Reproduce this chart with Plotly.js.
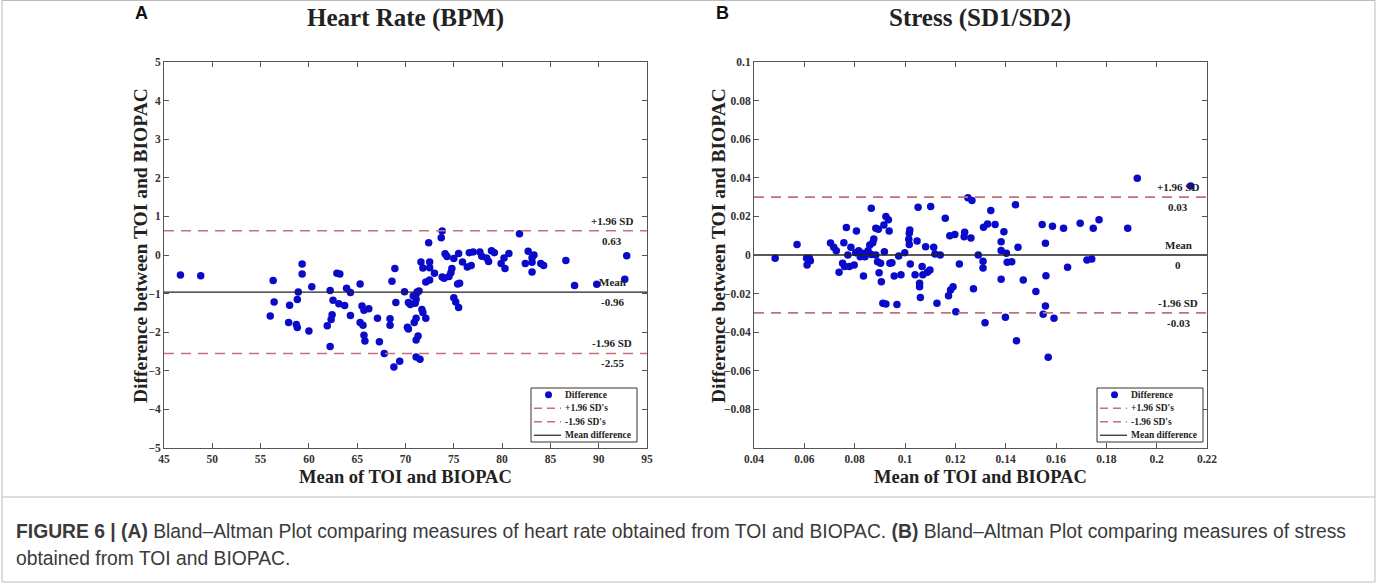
<!DOCTYPE html>
<html>
<head>
<meta charset="utf-8">
<script src="https://cdn.plot.ly/plotly-3.0.1.min.js"></script>
<style>html,body{margin:0;padding:0;background:#fff;}#chart{width:1377px;height:583px;}</style>
</head>
<body>
<div id="chart"></div>
<script>
// ---- Panel A: Heart Rate (BPM) ----
const hrMean = [46.7,48.8,56.0,56.3,56.4,57.9,58.0,58.7,58.8,58.8,58.9,59.3,59.3,60.0,60.3,61.9,62.2,62.2,62.3,62.4,62.5,62.9,63.2,63.1,63.7,63.9,64.3,64.3,65.3,65.3,65.5,65.7,65.6,65.7,65.8,66.2,67.1,67.3,67.8,68.4,68.4,68.6,68.8,68.9,69.0,69.4,69.9,70.2,70.3,70.3,70.5,70.8,70.9,71.0,71.1,71.1,71.1,71.1,71.1,71.2,71.3,71.4,71.5,71.6,71.7,71.8,71.8,72.1,72.1,72.4,72.5,72.5,72.5,73.0,73.7,73.8,73.8,74.0,74.1,74.3,74.5,74.7,74.8,75.0,75.0,75.2,75.4,75.5,75.5,75.6,75.9,76.4,76.6,76.8,77.0,77.7,77.9,78.4,78.6,78.9,79.2,79.9,80.2,80.3,80.7,81.8,82.4,82.7,83.1,83.1,83.1,83.3,84.0,84.3,86.6,87.5,89.8,92.7,92.9];
const hrDiff = [-0.52,-0.54,-1.58,-0.66,-1.22,-1.75,-1.30,-1.80,-1.15,-1.88,-0.96,-0.49,-0.23,-1.97,-0.82,-1.83,-0.92,-2.37,-1.67,-1.55,-1.17,-0.47,-0.49,-1.26,-1.31,-0.86,-0.97,-1.57,-0.75,-1.75,-1.32,-1.43,-1.82,-2.08,-2.23,-1.39,-1.64,-2.25,-2.55,-1.65,-1.82,-0.68,-2.90,-0.35,-1.23,-2.75,-0.95,-1.87,-1.92,-1.23,-1.28,-1.06,-1.75,-1.25,-1.15,-1.64,-2.20,-2.64,-1.02,-0.96,-2.10,-0.93,-2.70,-0.18,-1.41,-0.34,-1.49,-0.70,-1.64,0.32,-0.18,-0.33,-0.65,-0.47,0.45,0.62,-0.57,-0.60,0.03,-0.04,-0.56,-0.46,-0.35,-0.09,-1.11,-1.22,-0.75,0.04,-1.36,-0.73,-0.18,-0.31,0.06,-0.27,0.08,0.08,-0.03,-0.08,-0.17,0.11,0.06,-0.22,-0.08,-0.35,0.04,0.55,-0.22,0.10,-0.07,-0.19,-0.44,0.00,-0.22,-0.27,-0.14,-0.79,-0.76,-0.63,-0.02];
const hrRange = [45, 95];
const hrUpper = 0.63, hrMeanDiff = -0.96, hrLower = -2.55;
const hrTicks = [45,50,55,60,65,70,75,80,85,90,95];
const hrYTicks = [-5,-4,-3,-2,-1,0,1,2,3,4,5];

// ---- Panel B: Stress (SD1/SD2) ----
const stMean = [0.0484,0.0571,0.0609,0.0611,0.0620,0.0624,0.0704,0.0717,0.0727,0.0738,0.0752,0.0757,0.0760,0.0767,0.0773,0.0779,0.0785,0.0798,0.0804,0.0807,0.0816,0.0822,0.0829,0.0835,0.0841,0.0847,0.0853,0.0860,0.0866,0.0866,0.0872,0.0876,0.0884,0.0884,0.0891,0.0894,0.0897,0.0903,0.0906,0.0912,0.0916,0.0918,0.0924,0.0924,0.0934,0.0937,0.0940,0.0948,0.0957,0.0968,0.0975,0.0984,0.0999,0.1015,0.1017,0.1017,0.1019,0.1021,0.1040,0.1048,0.1052,0.1058,0.1058,0.1061,0.1068,0.1071,0.1082,0.1089,0.1099,0.1102,0.1114,0.1119,0.1127,0.1140,0.1160,0.1173,0.1178,0.1181,0.1191,0.1198,0.1202,0.1216,0.1235,0.1237,0.1250,0.1262,0.1266,0.1272,0.1291,0.1310,0.1310,0.1312,0.1318,0.1328,0.1341,0.1358,0.1382,0.1382,0.1382,0.1393,0.1399,0.1403,0.1406,0.1424,0.1439,0.1443,0.1449,0.1470,0.1520,0.1545,0.1549,0.1558,0.1558,0.1560,0.1569,0.1586,0.1592,0.1630,0.1646,0.1696,0.1723,0.1742,0.1748,0.1771,0.1885,0.1923,0.2135];
const stDiff = [-0.0017,0.0054,-0.0017,-0.0052,-0.0017,-0.0030,0.0062,0.0040,0.0022,-0.0090,-0.0043,0.0064,-0.0060,0.0142,0.0000,-0.0060,0.0040,-0.0052,0.0012,0.0125,0.0022,-0.0009,0.0009,-0.0109,-0.0009,0.0009,0.0022,0.0052,0.0242,0.0003,0.0064,0.0083,0.0138,0.0000,-0.0035,0.0133,-0.0092,-0.0043,-0.0138,-0.0250,0.0156,0.0017,0.0199,-0.0254,0.0182,0.0125,-0.0043,-0.0040,-0.0109,-0.0256,-0.0005,-0.0102,0.0012,0.0081,0.0113,0.0055,0.0130,-0.0047,-0.0102,0.0073,0.0248,-0.0147,-0.0164,-0.0220,-0.0060,-0.0102,0.0043,-0.0090,-0.0078,0.0251,0.0040,0.0005,-0.0250,0.0000,0.0190,-0.0211,0.0100,-0.0181,-0.0164,0.0106,-0.0294,-0.0047,0.0095,0.0118,0.0296,0.0088,0.0282,-0.0175,0.0000,-0.0033,-0.0068,0.0144,-0.0351,0.0161,0.0230,0.0158,0.0069,0.0023,-0.0125,0.0121,-0.0323,0.0009,-0.0038,-0.0035,0.0261,-0.0444,0.0040,-0.0130,-0.0189,0.0158,-0.0307,0.0061,-0.0264,-0.0107,-0.0530,0.0149,-0.0328,0.0139,-0.0064,0.0164,-0.0026,-0.0021,0.0139,0.0182,0.0139,0.0398,0.0357];
const stRange = [0.04, 0.22];
const stUpper = 0.03, stMeanDiff = 0, stLower = -0.03;
const stTicks = [0.04,0.06,0.08,0.1,0.12,0.14,0.16,0.18,0.2,0.22];
const stYTicks = [-0.08,-0.06,-0.04,-0.02,0,0.02,0.04,0.06,0.08,0.1];

const legendNames = ["Difference", "+1.96 SD's", "-1.96 SD's", "Mean difference"];
const limitLabels = {
  A: ["+1.96 SD", "0.63", "Mean", "-0.96", "-1.96 SD", "-2.55"],
  B: ["+1.96 SD", "0.03", "Mean", "0", "-1.96 SD", "-0.03"]
};

const W = 1377, H = 583;
const px = v => v / W;
const py = v => 1 - v / H;

const BLUE = '#0a0acb';
const DASH = '#c4707a';
const SERIF = 'Liberation Serif, Times New Roman, serif';
const SANS = 'Liberation Sans, Arial, sans-serif';

function panelTraces(xs, ys, rng, up, mn, lo, xa, ya) {
  return [
    {x: xs, y: ys, type: 'scatter', mode: 'markers', name: legendNames[0], xaxis: xa, yaxis: ya,
     marker: {color: BLUE, size: 7.5, line: {width: 0}}},
    {x: rng, y: [up, up], type: 'scatter', mode: 'lines', name: legendNames[1], xaxis: xa, yaxis: ya,
     line: {color: DASH, width: 1.6, dash: '10px,7px'}},
    {x: rng, y: [lo, lo], type: 'scatter', mode: 'lines', name: legendNames[2], xaxis: xa, yaxis: ya,
     line: {color: DASH, width: 1.6, dash: '10px,7px'}},
    {x: rng, y: [mn, mn], type: 'scatter', mode: 'lines', name: legendNames[3], xaxis: xa, yaxis: ya,
     line: {color: '#222', width: 1.3}}
  ];
}

const data = [].concat(
  panelTraces(hrMean, hrDiff, hrRange, hrUpper, hrMeanDiff, hrLower, 'x', 'y'),
  panelTraces(stMean, stDiff, stRange, stUpper, stMeanDiff, stLower, 'x2', 'y2')
);

const tickFont = {family: SERIF, size: 11.5, color: '#333', weight: 'bold'};
const axisCommon = {
  showline: true, linecolor: '#555', linewidth: 1, mirror: 'ticks',
  ticks: 'inside', ticklen: 5, tickcolor: '#555', tickwidth: 1,
  showgrid: false, zeroline: false, tickfont: tickFont, fixedrange: true
};

const yDomain = [py(448), py(62)];

function limitAnns(labels, xa, ya, xPos, vals) {
  const shifts = [10, -10, 10, -10, 10, -10];
  const yv = [vals[0], vals[0], vals[1], vals[1], vals[2], vals[2]];
  return labels.map((t, i) => ({
    text: '<b>' + t + '</b>', xref: xa, yref: ya, x: xPos, y: yv[i], yshift: shifts[i],
    showarrow: false, xanchor: 'center', yanchor: 'middle',
    font: {family: SERIF, size: 11, color: '#222'}
  }));
}

// Compact legend box (MATLAB style), built from legendNames
function legendBox(L, R, T, B) {
  const shapes = [{type: 'rect', xref: 'paper', yref: 'paper', x0: px(L), x1: px(R), y0: py(B), y1: py(T),
                   fillcolor: '#fff', line: {color: '#333', width: 1}, layer: 'above'}];
  const anns = [];
  const rowH = (B - T) / 4;
  legendNames.forEach((name, i) => {
    const cy = T + rowH * (i + 0.5);
    if (i === 0) {
      shapes.push({type: 'circle', xref: 'paper', yref: 'paper', x0: px(L + 14), x1: px(L + 21),
                   y0: py(cy + 3.5), y1: py(cy - 3.5), fillcolor: BLUE, line: {width: 0}, layer: 'above'});
    } else {
      const dashed = i < 3;
      shapes.push({type: 'line', xref: 'paper', yref: 'paper', x0: px(L + 3), x1: px(L + 30), y0: py(cy), y1: py(cy),
                   line: {color: dashed ? DASH : '#222', width: dashed ? 1.4 : 1.2, dash: dashed ? '8px,5px' : 'solid'},
                   layer: 'above'});
    }
    anns.push({text: '<b>' + name + '</b>', xref: 'paper', yref: 'paper', x: px(L + 32), y: py(cy),
               showarrow: false, xanchor: 'left', yanchor: 'middle',
               font: {family: SERIF, size: 9.5, color: '#222'}});
  });
  return {shapes, anns};
}

const legA = legendBox(531, 637, 388, 442);
const legB = legendBox(1097, 1203, 388, 442);

const layout = {
  width: W, height: H,
  margin: {l: 0, r: 0, t: 0, b: 0, pad: 0},
  paper_bgcolor: '#fff', plot_bgcolor: '#fff',
  showlegend: false,
  xaxis: Object.assign({}, axisCommon, {domain: [px(164), px(647)], range: hrRange, tickvals: hrTicks, anchor: 'y'}),
  yaxis: Object.assign({}, axisCommon, {domain: yDomain, range: [-5, 5], tickvals: hrYTicks, anchor: 'x'}),
  xaxis2: Object.assign({}, axisCommon, {domain: [px(754), px(1207)], range: stRange, tickvals: stTicks, anchor: 'y2'}),
  yaxis2: Object.assign({}, axisCommon, {domain: yDomain, range: [-0.1, 0.1], tickvals: stYTicks, anchor: 'x2'}),
  annotations: [
    {text: '<b>Heart Rate (BPM)</b>', xref: 'paper', yref: 'paper', x: px(405), y: py(18), showarrow: false,
     xanchor: 'center', yanchor: 'middle', font: {family: SERIF, size: 25, color: '#222'}},
    {text: '<b>Stress (SD1/SD2)</b>', xref: 'paper', yref: 'paper', x: px(980), y: py(18), showarrow: false,
     xanchor: 'center', yanchor: 'middle', font: {family: SERIF, size: 25, color: '#222'}},
    {text: '<b>A</b>', xref: 'paper', yref: 'paper', x: px(141), y: py(13), showarrow: false,
     xanchor: 'center', yanchor: 'middle', font: {family: SANS, size: 18, color: '#111'}},
    {text: '<b>B</b>', xref: 'paper', yref: 'paper', x: px(722), y: py(13), showarrow: false,
     xanchor: 'center', yanchor: 'middle', font: {family: SANS, size: 18, color: '#111'}},
    {text: '<b>Difference between TOI and BIOPAC</b>', xref: 'paper', yref: 'paper', x: px(140), y: py(246), textangle: -90,
     showarrow: false, xanchor: 'center', yanchor: 'middle', font: {family: SERIF, size: 19.5, color: '#222'}},
    {text: '<b>Difference between TOI and BIOPAC</b>', xref: 'paper', yref: 'paper', x: px(718), y: py(246), textangle: -90,
     showarrow: false, xanchor: 'center', yanchor: 'middle', font: {family: SERIF, size: 19.5, color: '#222'}},
    {text: '<b>Mean of TOI and BIOPAC</b>', xref: 'paper', yref: 'paper', x: px(405), y: py(477), showarrow: false,
     xanchor: 'center', yanchor: 'middle', font: {family: SERIF, size: 18.5, color: '#222'}},
    {text: '<b>Mean of TOI and BIOPAC</b>', xref: 'paper', yref: 'paper', x: px(980), y: py(477), showarrow: false,
     xanchor: 'center', yanchor: 'middle', font: {family: SERIF, size: 18.5, color: '#222'}},
    {text: '<b>FIGURE 6 | (A)</b> Bland–Altman Plot comparing measures of heart rate obtained from TOI and BIOPAC. <b>(B)</b> Bland–Altman Plot comparing measures of stress',
     xref: 'paper', yref: 'paper', x: px(14), y: py(531), showarrow: false, xanchor: 'left', yanchor: 'middle', align: 'left',
     font: {family: SANS, size: 19.3, color: '#3a3a3a'}},
    {text: 'obtained from TOI and BIOPAC.',
     xref: 'paper', yref: 'paper', x: px(14), y: py(558), showarrow: false, xanchor: 'left', yanchor: 'middle', align: 'left',
     font: {family: SANS, size: 19.3, color: '#3a3a3a'}}
  ].concat(
    limitAnns(limitLabels.A, 'x', 'y', 91.4, [hrUpper, hrMeanDiff, hrLower]),
    limitAnns(limitLabels.B, 'x2', 'y2', 0.2085, [stUpper, stMeanDiff, stLower]),
    legA.anns, legB.anns
  ),
  shapes: [
    {type: 'rect', xref: 'paper', yref: 'paper', x0: px(2), x1: px(1375), y0: py(582), y1: py(0.5),
     line: {color: '#bbb', width: 1}},
    {type: 'line', xref: 'paper', yref: 'paper', x0: px(2), x1: px(1375), y0: py(497), y1: py(497),
     line: {color: '#bbb', width: 1}}
  ].concat(legA.shapes, legB.shapes)
};

Plotly.newPlot('chart', data, layout, {displayModeBar: false, staticPlot: true});
</script>
</body>
</html>
